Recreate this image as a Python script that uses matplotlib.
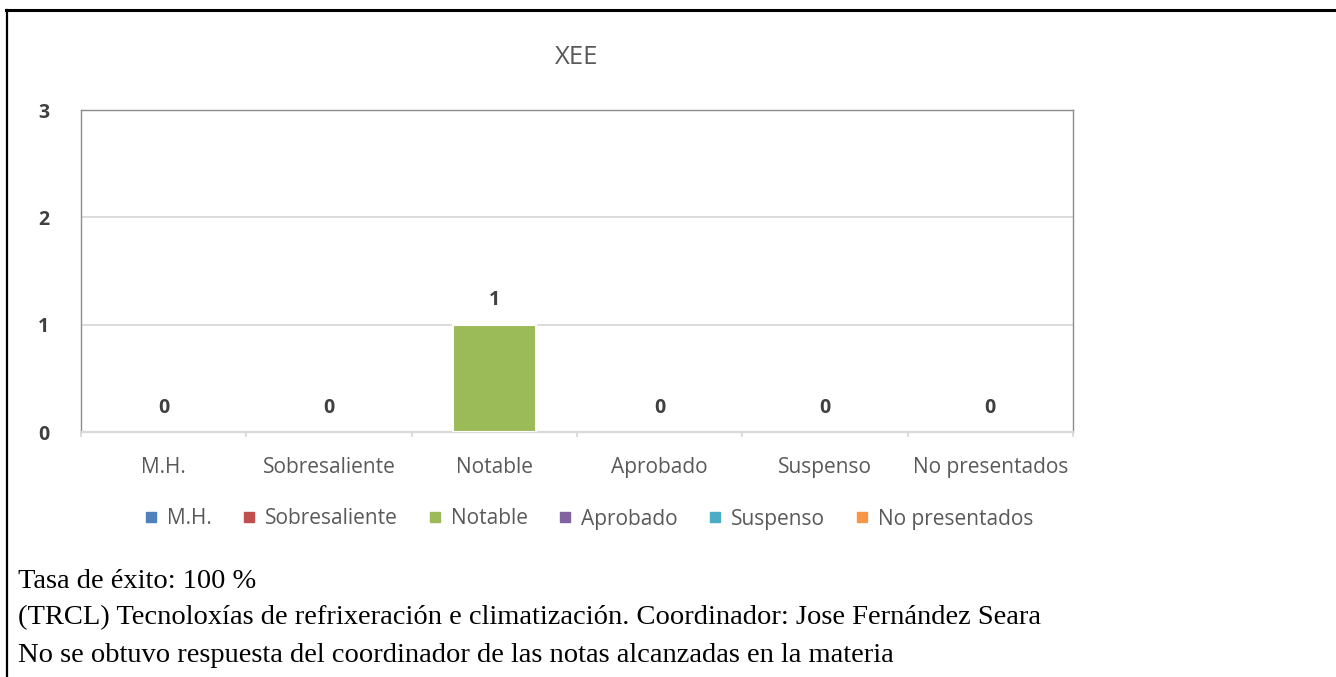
import matplotlib
matplotlib.use("Agg")
import matplotlib.pyplot as plt
from matplotlib.lines import Line2D

# ----- data ------------------------------------------------------------------
CATEGORIES = ["M.H.", "Sobresaliente", "Notable", "Aprobado", "Suspenso", "No presentados"]
COUNTS = [0, 0, 1, 0, 0, 0]
COLORS = ["#4F81BD", "#C0504D", "#9BBB59", "#8064A2", "#4BACC6", "#F79646"]
Y_TICKS = [0, 1, 2, 3]
TITLE = "XEE"
NOTES = [
    "Tasa de éxito: 100 %",
    "(TRCL) Tecnoloxías de refrixeración e climatización. Coordinador: Jose Fernández Seara",
    "No se obtuvo respuesta del coordinador de las notas alcanzadas en la materia",
]

W, H = 1336, 677
SANS = ["Open Sans", "DejaVu Sans"]
SERIF = ["Liberation Serif", "DejaVu Serif"]

fig = plt.figure(figsize=(W / 100, H / 100), dpi=100)

# outer frame (top + left only, as in the source document)
fig.add_artist(Line2D([6 / W, 1], [1 - 9.5 / H, 1 - 9.5 / H], color="black", lw=2.2,
                      transform=fig.transFigure))
fig.add_artist(Line2D([7 / W, 7 / W], [0, 1 - 9.5 / H], color="black", lw=1.6,
                      transform=fig.transFigure))

ax = fig.add_axes([81 / W, 1 - 432 / H, (1073 - 81) / W, (432 - 110) / H])
x = list(range(len(CATEGORIES)))
ax.bar(x, COUNTS, width=0.5, color=COLORS, edgecolor="white",
       linewidth=[1.5 if v else 0 for v in COUNTS], zorder=3)

ax.set_xlim(-0.5, len(CATEGORIES) - 0.5)
ax.set_ylim(0, 3)
ax.set_yticks(Y_TICKS)
ax.set_yticklabels([str(v) for v in Y_TICKS], fontsize=14, fontweight="bold",
                   color="#404040", family=SANS)
ax.tick_params(axis="y", length=0, pad=23)
ax.yaxis.grid(True, color="#D9D9D9", lw=1.3, zorder=0)
ax.set_axisbelow(True)

ax.set_xticks(x)
ax.set_xticklabels(CATEGORIES, fontsize=15, color="#595959", family=SANS)
ax.tick_params(axis="x", length=0, pad=18)
# category boundary ticks
for b in [i - 0.5 for i in range(len(CATEGORIES) + 1)]:
    ax.plot([b, b], [0, -0.04], color="#D9D9D9", lw=1.3, clip_on=False, zorder=1)

for side in ("left", "top", "right"):
    ax.spines[side].set_color("#8C8C8C")
    ax.spines[side].set_linewidth(1.0)
ax.spines["bottom"].set_color("#D9D9D9")
ax.spines["bottom"].set_linewidth(1.6)

for xi, v in zip(x, COUNTS):
    ax.annotate(str(v), (xi, v), xytext=(0, 17.5), textcoords="offset points",
                ha="center", va="center", fontsize=14, fontweight="bold",
                color="#404040", family=SANS)

fig.text(577 / W, 1 - 57 / H, TITLE, ha="center", va="center", fontsize=18.5,
         color="#595959", family=SANS)

handles = [Line2D([], [], ls="none", marker="s", markersize=6.5, color=c) for c in COLORS]
fig.legend(handles, CATEGORIES, loc="center", bbox_to_anchor=(587 / W, 1 - 519 / H),
           ncol=len(CATEGORIES), frameon=False, handletextpad=0.25, columnspacing=1.3,
           handlelength=1.0, prop={"family": SANS, "size": 15}, labelcolor="#595959")

for i, line in enumerate(NOTES):
    fig.text(18 / W, 1 - (581 + 37 * i) / H, line, ha="left", va="center",
             fontsize=20.5, color="black", family=SERIF)

fig.savefig("out.png", dpi=100, facecolor="white")
